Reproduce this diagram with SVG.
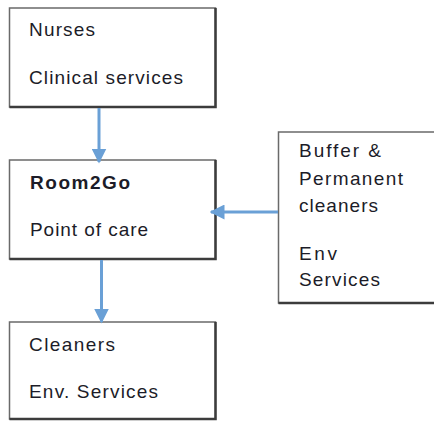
<svg xmlns="http://www.w3.org/2000/svg" width="434" height="421" viewBox="0 0 434 421">
  <style>
    .box { fill: #ffffff; stroke: #6a6a6a; stroke-width: 1.5; }
    .shadow { fill: none; stroke: #3c3c3c; stroke-width: 2.5; }
    .t { font-family: "Liberation Sans", Arial, sans-serif; font-size: 19px; fill: #1c1c28; }
    .b { font-weight: bold; }
    .conn { stroke: #6aa0d6; stroke-width: 3; fill: none; }
  </style>
  <defs>
    <marker id="ah" viewBox="0 0 10 10" refX="9" refY="5" markerWidth="5" markerHeight="5" markerUnits="strokeWidth" orient="auto">
      <path d="M0,0 L10,5 L0,10 Z" fill="#6aa0d6"/>
    </marker>
  </defs>
  <rect width="434" height="421" fill="#ffffff"/>

  <g id="node-nurses">
    <rect class="box" x="9.5" y="8" width="206" height="99"/>
    <path class="shadow" d="M215.5,8 V107 H9.5"/>
    <text class="t" x="29" y="36" textLength="66" lengthAdjust="spacing">Nurses</text>
    <text class="t" x="29" y="84" textLength="154" lengthAdjust="spacing">Clinical services</text>
  </g>

  <g id="node-room2go">
    <rect class="box" x="9.5" y="160" width="206" height="99"/>
    <path class="shadow" d="M215.5,160 V259 H9.5"/>
    <text class="t b" x="30" y="189" textLength="100" lengthAdjust="spacing">Room2Go</text>
    <text class="t" x="30" y="236" textLength="118" lengthAdjust="spacing">Point of care</text>
  </g>

  <g id="node-buffer">
    <rect class="box" x="278.5" y="132" width="170" height="171"/>
    <path class="shadow" d="M278.5,303 H440"/>
    <text class="t" x="299" y="157" textLength="82" lengthAdjust="spacing">Buffer  &amp;</text>
    <text class="t" x="299" y="185" textLength="104" lengthAdjust="spacing">Permanent</text>
    <text class="t" x="299" y="212" textLength="79" lengthAdjust="spacing">cleaners</text>
    <text class="t" x="299" y="260" textLength="38" lengthAdjust="spacing">Env</text>
    <text class="t" x="299" y="286" textLength="81" lengthAdjust="spacing">Services</text>
  </g>

  <g id="node-cleaners">
    <rect class="box" x="9.5" y="322" width="206" height="97"/>
    <path class="shadow" d="M215.5,322 V419 H9.5"/>
    <text class="t" x="29" y="351" textLength="86" lengthAdjust="spacing">Cleaners</text>
    <text class="t" x="29" y="398" textLength="129" lengthAdjust="spacing">Env. Services</text>
  </g>

  <g id="connectors">
    <line class="conn" x1="99" y1="108" x2="99" y2="162" marker-end="url(#ah)"/>
    <line class="conn" x1="101.5" y1="260" x2="101.5" y2="322" marker-end="url(#ah)"/>
    <line class="conn" x1="278" y1="212" x2="211" y2="212" marker-end="url(#ah)"/>
  </g>
</svg>
